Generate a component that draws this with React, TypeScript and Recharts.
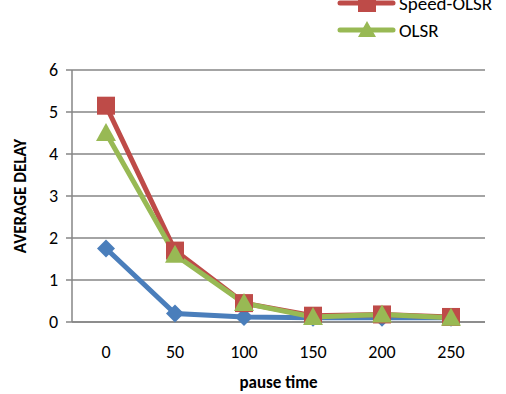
import { LineChart, Line, XAxis, YAxis, CartesianGrid } from 'recharts'

const pauseTimes = ['0', '50', '100', '150', '200', '250']
const baseDelay = [1.75, 0.2, 0.12, 0.1, 0.1, 0.1]
const speedOlsr = [5.15, 1.7, 0.45, 0.15, 0.18, 0.12]
const olsr = [4.5, 1.6, 0.45, 0.12, 0.18, 0.1]
const yTicks = [0, 1, 2, 3, 4, 5, 6]

const data = pauseTimes.map((t, i) => ({
  t,
  base: baseDelay[i],
  speed: speedOlsr[i],
  olsr: olsr[i],
}))

const BLUE = '#4A7EBB'
const RED = '#BE4B48'
const GREEN = '#98B954'
const FONT = 'Carlito, Calibri, "Liberation Sans", Arial, sans-serif'

const Diamond = (props: any) => {
  const { cx, cy } = props
  if (cx == null || cy == null) return null
  const r = 9
  return <path d={`M${cx},${cy - r}L${cx + r},${cy}L${cx},${cy + r}L${cx - r},${cy}Z`} fill={BLUE} />
}
const Square = (props: any) => {
  const { cx, cy } = props
  if (cx == null || cy == null) return null
  return <rect x={cx - 9} y={cy - 9} width={18} height={18} fill={RED} />
}
const Tri = (props: any) => {
  const { cx, cy } = props
  if (cx == null || cy == null) return null
  return <path d={`M${cx},${cy - 10}L${cx + 10},${cy + 8}L${cx - 10},${cy + 8}Z`} fill={GREEN} />
}

const legendItems = [
  { label: 'Speed-OLSR', color: RED, shape: 'square' },
  { label: 'OLSR', color: GREEN, shape: 'tri' },
]

// legend sits partly above the page edge, as in the source image
const ChartLegend = () => (
  <svg width={180} height={60} style={{ position: 'absolute', left: 338, top: 3, overflow: 'visible' }}>
    {legendItems.map((it, i) => {
      const y = i * 27
      return (
        <g key={it.label}>
          <line x1={2} x2={55} y1={y} y2={y} stroke={it.color} strokeWidth={5} strokeLinecap="round" />
          {it.shape === 'square' ? (
            <rect x={20} y={y - 9} width={18} height={18} fill={it.color} />
          ) : (
            <path d={`M29,${y - 9}L38,${y + 7}L20,${y + 7}Z`} fill={it.color} />
          )}
          <text x={61} y={y + 7} fontSize={19} fill="#000" fontFamily={FONT}>
            {it.label}
          </text>
        </g>
      )
    })}
  </svg>
)

export default function App() {
  return (
    <div style={{ position: 'absolute', left: 0, top: 0, width: 506, height: 394, background: '#fff', overflow: 'hidden' }}>
      <LineChart width={506} height={394} data={data} margin={{ top: 70, right: 21, left: 14, bottom: 4 }}>
        <CartesianGrid vertical={false} stroke="#868686" strokeWidth={1.5} />
        <XAxis
          dataKey="t"
          stroke="#868686"
          strokeWidth={1.5}
          tickLine={false}
          padding={{ left: 34, right: 34 }}
          tick={{ fontSize: 18, fill: '#000', fontFamily: FONT }}
          tickMargin={17}
          height={68}
          label={{ value: 'pause time', position: 'insideBottom', offset: 2, fontSize: 17, fontWeight: 'bold', fill: '#000', fontFamily: FONT }}
        />
        <YAxis
          domain={[0, 6]}
          ticks={yTicks}
          stroke="#868686"
          strokeWidth={1.5}
          tickSize={6}
          tickMargin={8}
          tick={{ fontSize: 18, fill: '#000', fontFamily: FONT }}
          width={58}
          label={{ value: 'AVERAGE DELAY', angle: -90, position: 'insideLeft', offset: 6, textAnchor: 'middle', fontSize: 17, fontWeight: 'bold', fill: '#000', fontFamily: FONT }}
        />
        <Line dataKey="base" stroke={BLUE} strokeWidth={5} dot={<Diamond />} isAnimationActive={false} />
        <Line dataKey="speed" stroke={RED} strokeWidth={5} dot={<Square />} isAnimationActive={false} />
        <Line dataKey="olsr" stroke={GREEN} strokeWidth={5} dot={<Tri />} isAnimationActive={false} />
      </LineChart>
      <ChartLegend />
    </div>
  )
}
